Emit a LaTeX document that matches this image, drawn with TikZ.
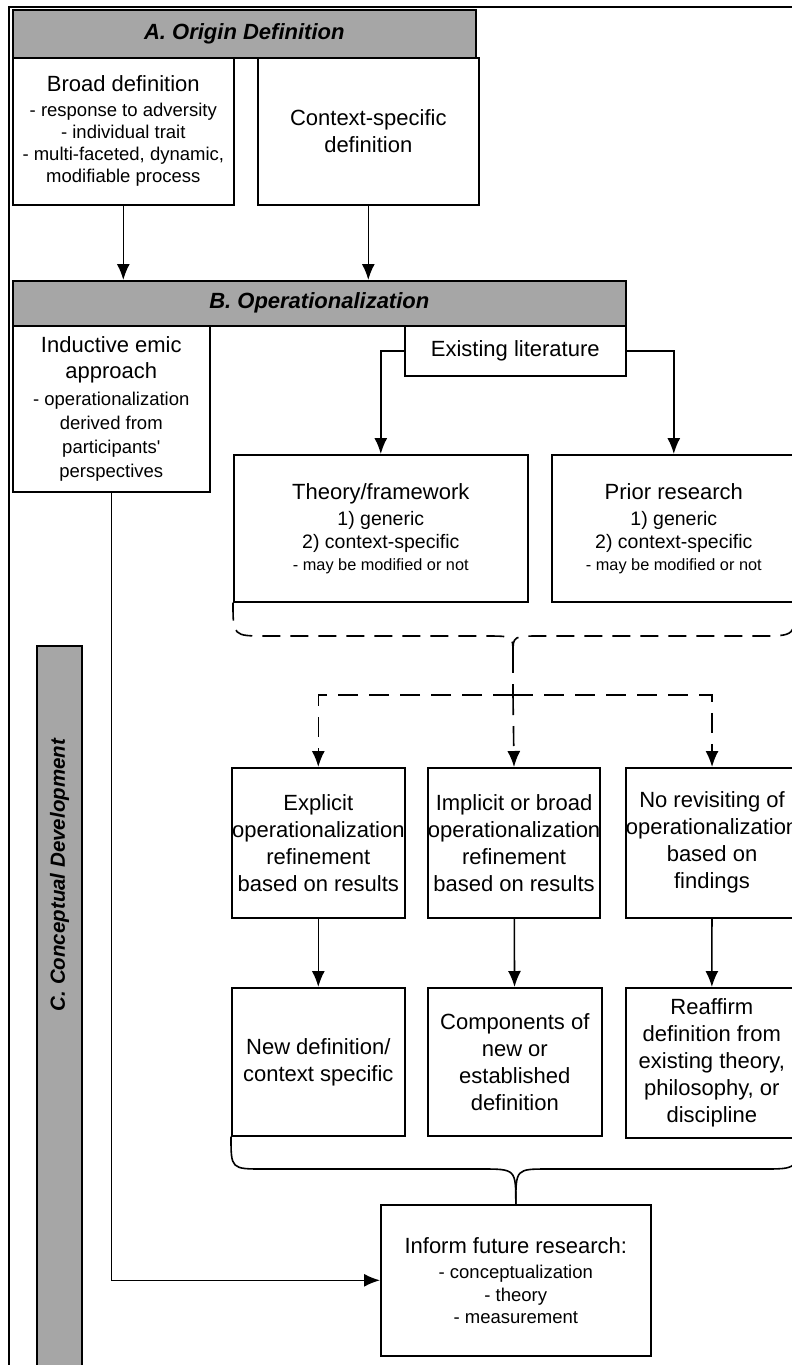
\documentclass[tikz,border=0pt]{standalone}
\usepackage{fontspec}
\setmainfont{Liberation Sans}
\usetikzlibrary{arrows.meta}

\definecolor{hdrgray}{HTML}{A6A6A6}
\newcommand{\mainsz}{\fontsize{22}{27}\selectfont}
\newcommand{\subsz}{\fontsize{18.5}{22.5}\selectfont}
\newcommand{\midsz}{\fontsize{19.5}{23}\selectfont}
\newcommand{\tinysz}{\fontsize{16.3}{20}\selectfont}

\tikzset{
  box/.style={draw, line width=1.6pt, inner sep=0pt, align=center, anchor=north west, font=\mainsz},
  hdr/.style={box, fill=hdrgray, font=\mainsz\bfseries\itshape},
  flow/.style={-{Latex[length=16pt,width=13pt]}, line width=1.6pt},
  dflow/.style={flow, dash pattern=on 20pt off 11pt},
}

\begin{document}
\begin{tikzpicture}[x=1pt, y=-1pt]
      \useasboundingbox (0,0) rectangle (792,1365);
      \clip (0,0) rectangle (792,1365);

      % outer frame
      \draw[line width=1.2pt] (9,1400) -- (9,7) -- (850,7);

      % A. origin definition
      \node[hdr, minimum width=463pt, minimum height=48pt] (hdrA) at (12,9) {A. Origin Definition};
      \node[box, minimum width=221pt, minimum height=147pt] (broad) at (12,57)
            {Broad definition\\[-2pt]
             {\subsz - response to adversity}\\[-5pt]
             {\subsz - individual trait}\\[-5pt]
             {\subsz - multi-faceted, dynamic,}\\[-5pt]
             {\subsz modifiable process}};
      \node[box, minimum width=221pt, minimum height=147pt] (context) at (257,57)
            {Context-specific\\definition};

      % B. operationalization
      \node[hdr, minimum width=613pt, minimum height=45pt] (hdrB) at (12,280) {B. Operationalization};
      \draw[flow] (broad.south) -- (broad.south |- hdrB.north);
      \draw[flow] (context.south) -- (context.south |- hdrB.north);

      \node[box, minimum width=197pt, minimum height=166pt] (induct) at (12,325)
            {Inductive emic\\[-1pt] approach\\[0pt]
             {\subsz - operationalization}\\[-3pt]
             {\subsz derived from}\\[-3pt]
             {\subsz participants\textquotesingle}\\[-3pt]
             {\subsz perspectives}};
      \node[box, minimum width=221pt, minimum height=50pt] (exlit) at (404,325) {Existing literature};

      \node[box, minimum width=294pt, minimum height=147pt] (theory) at (233,454)
            {Theory/framework\\[-1pt]
             {\midsz 1) generic}\\[-4pt]
             {\midsz 2) context-specific}\\[-5pt]
             {\tinysz - may be modified or not}};
      \node[box, minimum width=244pt, minimum height=147pt] (prior) at (551,454)
            {Prior research\\[-1pt]
             {\midsz 1) generic}\\[-4pt]
             {\midsz 2) context-specific}\\[-5pt]
             {\tinysz - may be modified or not}};
      \draw[flow] (exlit.west) -| (theory.north);
      \draw[flow] (exlit.east) -| (prior.north);

      % dashed brace under the literature boxes
      \coordinate (tipA) at (513,653);
      \coordinate (split) at (513,695);
      \draw[line width=1.6pt, dash pattern=on 18pt off 10pt]
            (theory.south west) .. controls (233,636) .. (266,636) -- (485,636)
            .. controls (513,636) .. (tipA);
      \draw[line width=1.6pt, dash pattern=on 18pt off 10pt]
            (tipA) .. controls (513,636) .. (541,636) -- (760,636)
            .. controls (795,636) .. (prior.south east);

      % results rows
      \node[box, minimum width=173pt, minimum height=150pt] (explicit) at (231,767)
            {Explicit\\operationalization\\refinement\\based on results};
      \node[box, minimum width=172pt, minimum height=150pt] (implicit) at (427,767)
            {Implicit or broad\\operationalization\\refinement\\based on results};
      \node[box, minimum width=172pt, minimum height=150pt] (norevisit) at (625,767)
            {No revisiting of\\operationalization\\based on\\findings};
      \draw[line width=1.6pt, dash pattern=on 20pt off 11pt] (tipA) -- (split);
      \draw[dflow] (split) -| (explicit.north);
      \draw[dflow] (split) -| (norevisit.north);
      \draw[dflow] (split) -- (implicit.north);

      \node[box, minimum width=173pt, minimum height=148pt] (newdef) at (231,987)
            {New definition/\\context specific};
      \node[box, minimum width=174pt, minimum height=148pt] (comps) at (427,987)
            {Components of\\new or\\established\\definition};
      \node[box, minimum width=172pt, minimum height=150pt] (reaffirm) at (625,987)
            {Reaffirm\\definition from\\existing theory,\\philosophy, or\\discipline};
      \draw[flow] (explicit) -- (newdef);
      \draw[flow] (implicit) -- (comps);
      \draw[flow] (norevisit) -- (reaffirm);

      % inform future research
      \node[box, minimum width=270pt, minimum height=151pt] (inform) at (380,1204)
            {Inform future research:\\[-2pt]
             {\subsz - conceptualization}\\[-4pt]
             {\subsz - theory}\\[-5pt]
             {\subsz - measurement}};
      \draw[line width=1.6pt]
            (newdef.south west) .. controls (231,1169) .. (264,1169) -- (481,1169)
            .. controls (inform.north |- 0,1169) .. (inform.north);
      \draw[line width=1.6pt]
            (inform.north) .. controls (inform.north |- 0,1169) .. (548,1169) -- (762,1169)
            .. controls (797,1169) .. (reaffirm.south east);
      \draw[flow] (induct.south) |- (inform.west);

      % C. conceptual development
      \draw[line width=1.6pt, fill=hdrgray] (37,646) rectangle (82,1420);
      \node[rotate=90, font=\fontsize{20.5}{24}\selectfont\bfseries\itshape] (hdrC) at (59.5,875)
            {C. Conceptual Development};
\end{tikzpicture}
\end{document}
